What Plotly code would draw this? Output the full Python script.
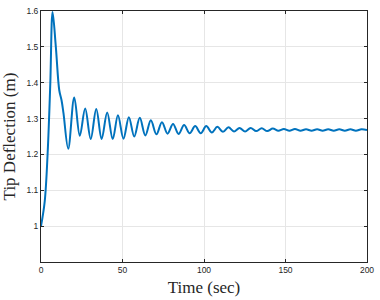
import plotly.graph_objects as go

time_s = [0, 2.3, 4.1, 5.7, 7.1, 9.1, 11.2, 12.6, 13.8, 16.7, 20.4, 23.8, 27.1, 30.5, 33.9, 37.2,
          40.6, 44.0, 47.2, 50.6, 53.9, 57.2, 60.6, 64.0, 67.4, 70.8, 74.2, 77.6, 81.0, 84.4, 87.8,
          91.2, 94.6, 98.0, 101.4, 104.8, 108.2, 111.6, 115.0, 118.4, 121.8, 125.2, 128.6, 132.0,
          135.4, 138.8, 142.2, 145.6, 149.0, 152.4, 155.8, 159.2, 162.6, 166.0, 169.4, 172.8,
          176.2, 179.6, 183.0, 186.4, 189.8, 193.2, 196.6, 200.0]
deflection = [1.0, 1.07, 1.206, 1.397, 1.597, 1.50, 1.379, 1.351, 1.315, 1.216, 1.359, 1.252,
              1.328, 1.243, 1.327, 1.243, 1.317, 1.243, 1.309, 1.244, 1.304, 1.250, 1.302, 1.253,
              1.295, 1.256, 1.290, 1.258, 1.285, 1.257, 1.282, 1.259, 1.279, 1.259, 1.279, 1.261,
              1.277, 1.263, 1.276, 1.264, 1.274, 1.264, 1.274, 1.265, 1.273, 1.265, 1.272, 1.266,
              1.271, 1.266, 1.271, 1.266, 1.270, 1.266, 1.270, 1.266, 1.270, 1.266, 1.270, 1.266,
              1.270, 1.266, 1.270, 1.268]

x_ticks = [0, 50, 100, 150, 200]
y_ticks = [1, 1.1, 1.2, 1.3, 1.4, 1.5, 1.6]
y_tick_labels = ["1", "1.1", "1.2", "1.3", "1.4", "1.5", "1.6"]

fig = go.Figure()
fig.add_trace(go.Scatter(
    x=time_s, y=deflection, mode="lines",
    line=dict(color="#0072BD", width=2, shape="spline", smoothing=1.0),
    showlegend=False, hoverinfo="skip"))

axis_common = dict(
    showline=True, linecolor="#262626", linewidth=1, mirror="ticks",
    ticks="inside", ticklen=3, tickcolor="#262626",
    showgrid=True, gridcolor="#e6e6e6", gridwidth=1, zeroline=False,
    tickfont=dict(family="Liberation Sans, Arial, sans-serif", size=8.5, color="#262626"),
)

fig.update_layout(
    width=380, height=300,
    margin=dict(l=41, r=10, t=6, b=38),
    paper_bgcolor="white", plot_bgcolor="white",
    xaxis=dict(range=[0, 200], tickvals=x_ticks,
               title=dict(text="Time (sec)", standoff=6,
                          font=dict(family="Liberation Serif, serif", size=17, color="#262626")),
               **axis_common),
    yaxis=dict(range=[0.9, 1.6], tickvals=y_ticks, ticktext=y_tick_labels,
               title=dict(text="Tip Deflection (m)", standoff=8,
                          font=dict(family="Liberation Serif, serif", size=17, color="#262626")),
               **axis_common),
)

fig.write_html("out.html", config={"displayModeBar": False},
               post_script="document.body.style.margin='0';")
